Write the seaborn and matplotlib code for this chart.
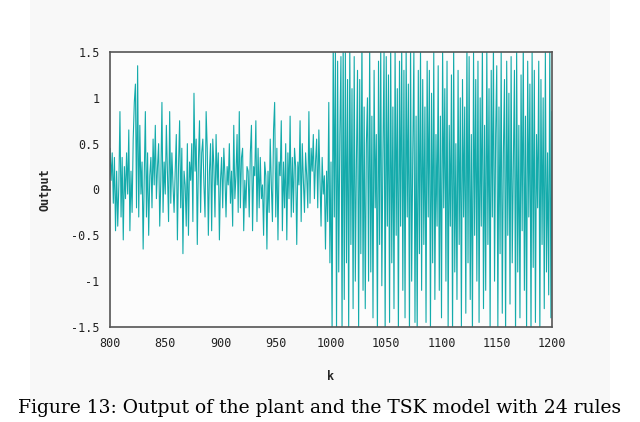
import numpy as np
import matplotlib
matplotlib.use("Agg")
import matplotlib.pyplot as plt
import seaborn as sns
from matplotlib.patches import Rectangle

# k = 800 .. 999 (quiet part)
out_a = [
    0.45, 0.10, 0.40, -0.15, 0.35, -0.45, 0.20, -0.40, 0.05, 0.85,
    -0.30, 0.35, -0.55, 0.25, -0.10, 0.40, -0.05, 0.65, -0.45, 0.20,
    -0.25, 0.55, 0.95, 1.15, -0.20, 1.35, -0.30, 0.70, -0.05, 0.30,
    -0.65, 0.15, 0.85, -0.30, 0.40, -0.50, 0.15, 0.35, -0.20, 0.55,
    0.05, 0.70, -0.10, 0.25, 0.50, -0.40, 0.10, 0.95, -0.25, 0.30,
    -0.05, 0.70, 0.15, -0.35, 0.85, -0.15, 0.40, 0.05, -0.25, 0.20,
    0.60, -0.55, 0.25, 0.75, -0.20, 0.45, -0.70, 0.20, 0.05, -0.40,
    0.50, -0.50, 0.30, 0.10, 0.50, -0.35, 1.05, 0.20, 0.55, -0.60,
    0.30, 0.75, -0.25, 0.40, 0.55, 0.05, -0.30, 0.85, 0.45, -0.50,
    0.20, 0.50, -0.45, 0.55, 0.25, -0.30, 0.60, 0.05, 0.40, -0.55,
    0.10, 0.35, -0.20, 0.45, 0.15, -0.30, 0.25, 0.05, 0.50, -0.15,
    0.20, -0.40, 0.70, -0.10, 0.15, 0.60, -0.25, 0.85, -0.20, 0.35,
    0.45, -0.45, 0.10, -0.20, 0.25, 0.20, -0.30, 0.40, 0.70, -0.45,
    0.25, 0.15, 0.75, -0.35, 0.45, -0.20, 0.35, -0.10, 0.05, -0.50,
    0.30, 0.15, -0.65, 0.20, -0.25, 0.55, 0.05, -0.35, 0.65, 0.95,
    -0.30, 0.45, -0.55, 0.30, 0.15, 0.75, -0.45, 0.30, -0.20, 0.50,
    -0.55, 0.40, -0.10, 0.80, -0.30, 0.35, -0.25, 0.45, 0.25, -0.60,
    0.30, 0.05, 0.75, -0.35, 0.50, 0.10, -0.25, 0.40, 0.15, -0.20,
    0.85, -0.15, 0.45, 0.20, 0.60, -0.10, 0.30, 0.55, -0.20, 0.65,
    0.10, -0.40, 0.35, -0.05, 0.15, -0.65, 0.20, -0.35, 0.95, -0.80,
]

# k = 1000 .. 1200 (large oscillation, clipped at +/-1.5 by the axes)
out_b = [
    0.30, -1.60, 1.70, -0.30, 1.55, -1.55, 1.40, -0.90, 0.60, 1.45,
    -1.60, 1.65, -1.20, 1.50, -0.80, 1.20, -1.55, 1.60, -0.60, 1.10,
    -1.30, 1.45, -1.00, 0.30, 1.30, -1.55, 1.20, -0.70, 1.70, -1.10,
    0.90, -1.30, 0.50, 1.00, -1.00, 1.60, -0.90, 0.80, -1.40, 1.30,
    -0.20, 0.60, -1.60, 1.40, -0.60, 1.60, -1.05, 0.40, 1.50, -1.60,
    1.45, -0.40, 1.25, -1.45, 1.60, -0.80, 0.90, -1.30, 1.55, -0.50,
    1.10, -1.60, 1.40, -0.40, 1.60, -1.10, 1.30, -1.40, 1.55, -0.30,
    1.15, -1.60, 1.60, -1.00, 0.40, 1.50, -1.45, 0.80, -1.60, 1.30,
    -0.70, 1.55, -1.10, 1.20, -0.60, 0.90, -1.45, 1.40, -0.30, 1.30,
    -1.55, 1.05, -0.80, 1.50, -1.20, 0.60, -0.40, 1.35, -1.10, 0.80,
    -1.40, 1.55, -0.20, 1.10, -1.00, 1.40, -1.55, 0.70, -0.40, 1.25,
    -1.60, 1.60, -0.90, 0.50, -1.20, 1.30, -0.60, 1.00, -1.50, 1.20,
    -0.30, 0.90, -1.35, 1.60, -0.80, 1.45, -1.20, 0.60, -1.60, 1.50,
    -0.50, 1.20, -1.00, 1.40, -1.45, 1.00, -0.40, 1.60, -1.30, 0.70,
    -1.10, 1.55, -0.60, 1.10, -1.55, 1.30, -0.30, 1.60, -1.00, 0.60,
    1.35, -1.50, 0.90, -0.70, 1.50, -1.35, 0.40, 1.20, -1.60, 1.40,
    -0.50, 1.05, -1.25, 1.45, -0.80, 0.30, 1.30, -1.60, 1.55, -0.90,
    0.70, -1.40, 1.25, -0.45, 1.60, -1.10, 0.80, -1.55, 1.40, -0.30,
    1.15, -1.60, 1.50, -0.85, 1.30, -1.45, 0.60, -0.20, 1.40, -1.60,
    1.20, -0.60, 1.00, -1.30, 1.50, -0.90, 0.40, -1.15, 1.60, -1.40,
    0.85,
]

k_vals = np.arange(800, 800 + len(out_a) + len(out_b))
output = out_a + out_b

x_ticks = [800, 850, 900, 950, 1000, 1050, 1100, 1150, 1200]
y_ticks = [-1.5, -1, -0.5, 0, 0.5, 1, 1.5]
y_labels = ["-1.5", "-1", "-0.5", "0", "0.5", "1", "1.5"]

sns.set_style("white")
plt.rcParams['font.family'] = ['DejaVu Sans Mono']

fig = plt.figure(figsize=(6.4, 4.22), dpi=100, facecolor="white")
fig.patches.append(Rectangle((30 / 640, 1 - 410 / 422), 580 / 640, 410 / 422,
                             transform=fig.transFigure, facecolor="#f8f8f8",
                             edgecolor="none", zorder=-5))
ax = fig.add_axes([110 / 640, 1 - 327 / 422, 442 / 640, 275 / 422])
ax.set_zorder(2)
ax.set_facecolor("#fcfcfc")

sns.lineplot(x=k_vals, y=output, ax=ax, color="#14abab", linewidth=0.8)

ax.set_xlim(800, 1200)
ax.set_ylim(-1.5, 1.5)
ax.set_xticks(x_ticks)
ax.set_yticks(y_ticks)
ax.set_yticklabels(y_labels)
ax.tick_params(direction="inout", length=8, width=1, color="#555555",
               labelsize=8.5, labelcolor="#222222")
for s in ax.spines.values():
    s.set_color("#555555")
    s.set_linewidth(1.2)
ax.set_xlabel("k", fontsize=8.5, fontweight="bold", labelpad=14)
ax.set_ylabel("Output", fontsize=8.5, fontweight="bold", labelpad=14)

fig.text(0.5, 1 - 408 / 422, "Figure 13: Output of the plant and the TSK model with 24 rules",
         ha="center", va="center", fontsize=13.5, family="serif", color="black")

fig.savefig("out.png", dpi=100, facecolor=fig.get_facecolor())
